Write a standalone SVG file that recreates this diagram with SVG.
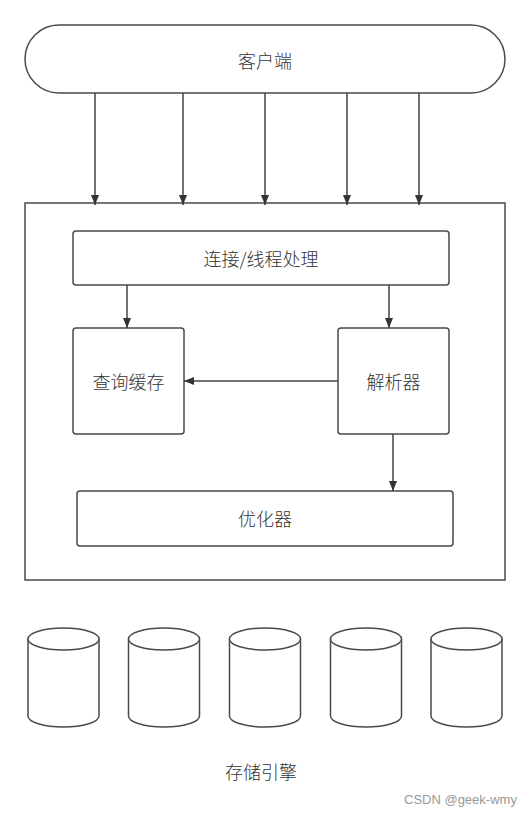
<svg xmlns="http://www.w3.org/2000/svg" width="530" height="816" viewBox="0 0 530 816">
<defs>
<style>
.box{fill:#fff;stroke:#4a4a4a;stroke-width:1.5}
.lbl{font-family:"Noto Sans CJK SC","Liberation Sans",sans-serif;font-size:18px;font-weight:300;fill:#333;text-anchor:middle;dominant-baseline:central}
.edge{stroke:#444;stroke-width:1.5;fill:none;marker-end:url(#arr)}
.wm{font-family:"Liberation Sans",sans-serif;font-size:13px;fill:#999}
</style>
<marker id="arr" viewBox="0 0 10 10" refX="10" refY="5" markerWidth="10" markerHeight="10" markerUnits="userSpaceOnUse" orient="auto">
<path d="M0,1 L10,5 L0,9 Z" fill="#333"/>
</marker>
<g id="cyl">
<path class="box" d="M0,11 A35.5,11 0 0 1 71,11 L71,88 A35.5,11 0 0 1 0,88 Z"/>
<path class="box" fill="none" d="M0,11 A35.5,11 0 0 0 71,11"/>
</g>
</defs>
<rect width="530" height="816" fill="#fff"/>
<g id="client">
<rect class="box" x="25" y="25" width="480" height="68" rx="34" ry="34"/>
<text class="lbl" x="265" y="60">客户端</text>
</g>
<g id="server">
<rect class="box" x="25" y="203" width="480" height="377"/>
</g>
<g id="conn">
<rect class="box" x="73" y="231" width="376" height="54" rx="3"/>
<text class="lbl" x="261" y="258">连接/线程处理</text>
</g>
<g id="cache">
<rect class="box" x="73" y="328" width="111" height="106" rx="3"/>
<text class="lbl" x="128.5" y="381">查询缓存</text>
</g>
<g id="parser">
<rect class="box" x="338" y="328" width="111" height="106" rx="3"/>
<text class="lbl" x="393.5" y="381">解析器</text>
</g>
<g id="optimizer">
<rect class="box" x="77" y="491" width="376" height="55" rx="3"/>
<text class="lbl" x="265" y="518">优化器</text>
</g>
<g id="storage">
<use href="#cyl" x="28" y="628"/>
<use href="#cyl" x="128.5" y="628"/>
<use href="#cyl" x="229.5" y="628"/>
<use href="#cyl" x="330.5" y="628"/>
<use href="#cyl" x="431" y="628"/>
<text class="lbl" x="261" y="771">存储引擎</text>
</g>
<g id="connectors">
<line class="edge" x1="95" y1="93" x2="95" y2="205"/>
<line class="edge" x1="183" y1="93" x2="183" y2="205"/>
<line class="edge" x1="265" y1="93" x2="265" y2="205"/>
<line class="edge" x1="347" y1="93" x2="347" y2="205"/>
<line class="edge" x1="419" y1="93" x2="419" y2="205"/>
<line class="edge" x1="127" y1="285" x2="127" y2="328"/>
<line class="edge" x1="389" y1="285" x2="389" y2="328"/>
<line class="edge" x1="338" y1="381" x2="184" y2="381"/>
<line class="edge" x1="393" y1="434" x2="393" y2="491"/>
</g>
<text class="wm" x="404" y="804">CSDN @geek-wmy</text>
</svg>
